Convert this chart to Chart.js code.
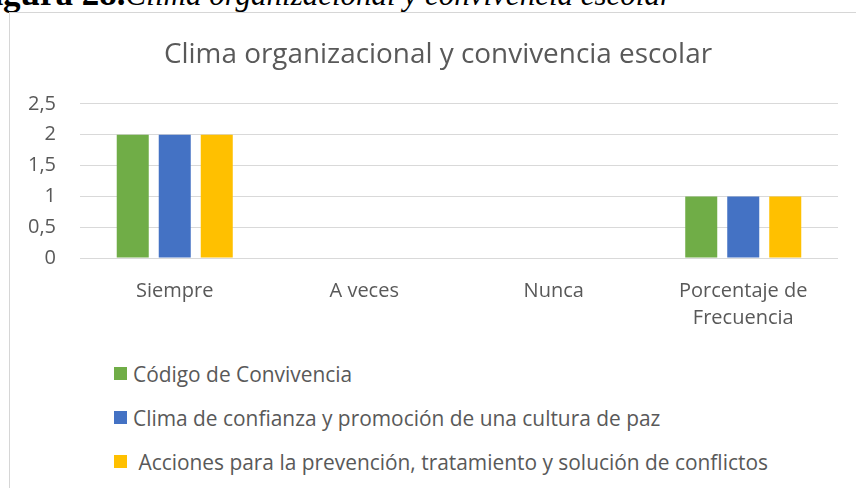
<!DOCTYPE html>
<html>
<head>
<meta charset="utf-8">
<script src="https://cdn.jsdelivr.net/npm/chart.js@4.4.0/dist/chart.umd.min.js"></script>
<style>
    html, body { margin: 0; padding: 0; width: 856px; height: 488px; overflow: hidden; background: #fff; }
    #caption {
        position: absolute; left: -28px; top: -25px; white-space: nowrap;
        font-family: 'Liberation Serif', 'Times New Roman', serif; font-size: 31px; line-height: 38px; color: #000;
    }
    #caption b { font-size: 35px; }
    #frame { position: absolute; left: 9px; top: 12px; width: 900px; height: 600px; border: 1px solid #d6d6d6; }
    #barChart { position: absolute; left: 10px; top: 0; }
    #legend { position: absolute; left: 114px; top: 0; font-family: 'Open Sans', sans-serif; font-size: 20.9px; color: #595959; }
    .item { position: absolute; left: 0; height: 24px; display: flex; align-items: center; white-space: pre; }
    .box { width: 13px; height: 13px; margin-right: 6px; flex: none; }
</style>
</head>
<body>
<div id="caption"><b>Figura 28.</b><i>Clima organizacional y convivencia escolar</i></div>
<div id="frame"></div>
<canvas id="barChart" width="856" height="345"></canvas>
<div id="legend"></div>

<script>
// Data
const categories = ['Siempre', 'A veces', 'Nunca', ['Porcentaje de', 'Frecuencia']];
const codigoData = [2, 0, 0, 1];
const climaData = [2, 0, 0, 1];
const accionesData = [2, 0, 0, 1];
const seriesNames = [
    'Código de Convivencia',
    'Clima de confianza y promoción de una cultura de paz',
    ' Acciones para la prevención, tratamiento y solución de conflictos'
];
const yTickLabels = ['0', '0,5', '1', '1,5', '2', '2,5'];

const COLORS = ['#70AD47', '#4472C4', '#FFC000'];
const TEXT = '#595959';
const FONT = "'Open Sans', sans-serif";

const ctx = document.getElementById('barChart').getContext('2d');

const makeSet = (label, data, color) => ({
    label: label,
    data: data,
    backgroundColor: color,
    borderWidth: 0,
    categoryPercentage: 0.665,
    barPercentage: 0.762
});

const chart = new Chart(ctx, {
    type: 'bar',
    data: {
        labels: categories,
        datasets: [
            makeSet(seriesNames[0], codigoData, COLORS[0]),
            makeSet(seriesNames[1], climaData, COLORS[1]),
            makeSet(seriesNames[2], accionesData, COLORS[2])
        ]
    },
    options: {
        responsive: false,
        animation: false,
        layout: { padding: 0 },
        scales: {
            x: {
                grid: { display: false, drawTicks: false },
                border: { display: false },
                ticks: {
                    padding: 20,
                    color: TEXT,
                    maxRotation: 0,
                    autoSkip: false,
                    font: { family: FONT, size: 20, lineHeight: 1.35 }
                },
                afterFit: (scale) => { scale.height = 87; }
            },
            y: {
                min: 0,
                max: 2.5,
                grid: { color: '#d9d9d9', lineWidth: 1, drawTicks: false },
                border: { display: false },
                ticks: {
                    stepSize: 0.5,
                    padding: 24,
                    color: TEXT,
                    font: { family: FONT, size: 20 },
                    callback: (value, index) => yTickLabels[index]
                },
                afterFit: (scale) => { scale.width = 70; }
            },
            // empty right axis: only reserves the right margin so the title stays centred
            yRight: {
                type: 'linear',
                position: 'right',
                grid: { display: false, drawTicks: false },
                border: { display: false },
                ticks: { display: false },
                afterFit: (scale) => { scale.width = 28; }
            }
        },
        plugins: {
            legend: { display: false },
            tooltip: { enabled: false },
            title: {
                display: true,
                text: 'Clima organizacional y convivencia escolar',
                color: TEXT,
                font: { family: FONT, size: 27.9, weight: 'normal', lineHeight: 1.2 },
                padding: { top: 38, bottom: 32.5 }
            }
        }
    }
});

// HTML legend, one entry per line like the original
const legendEl = document.getElementById('legend');
const legendCenters = [373.5, 417.5, 461.5];
chart.data.datasets.forEach((ds, i) => {
    const item = document.createElement('div');
    item.className = 'item';
    item.style.top = (legendCenters[i] - 12) + 'px';
    const box = document.createElement('span');
    box.className = 'box';
    box.style.background = ds.backgroundColor;
    const txt = document.createElement('span');
    txt.textContent = ds.label;
    item.appendChild(box);
    item.appendChild(txt);
    legendEl.appendChild(item);
});
</script>
</body>
</html>
